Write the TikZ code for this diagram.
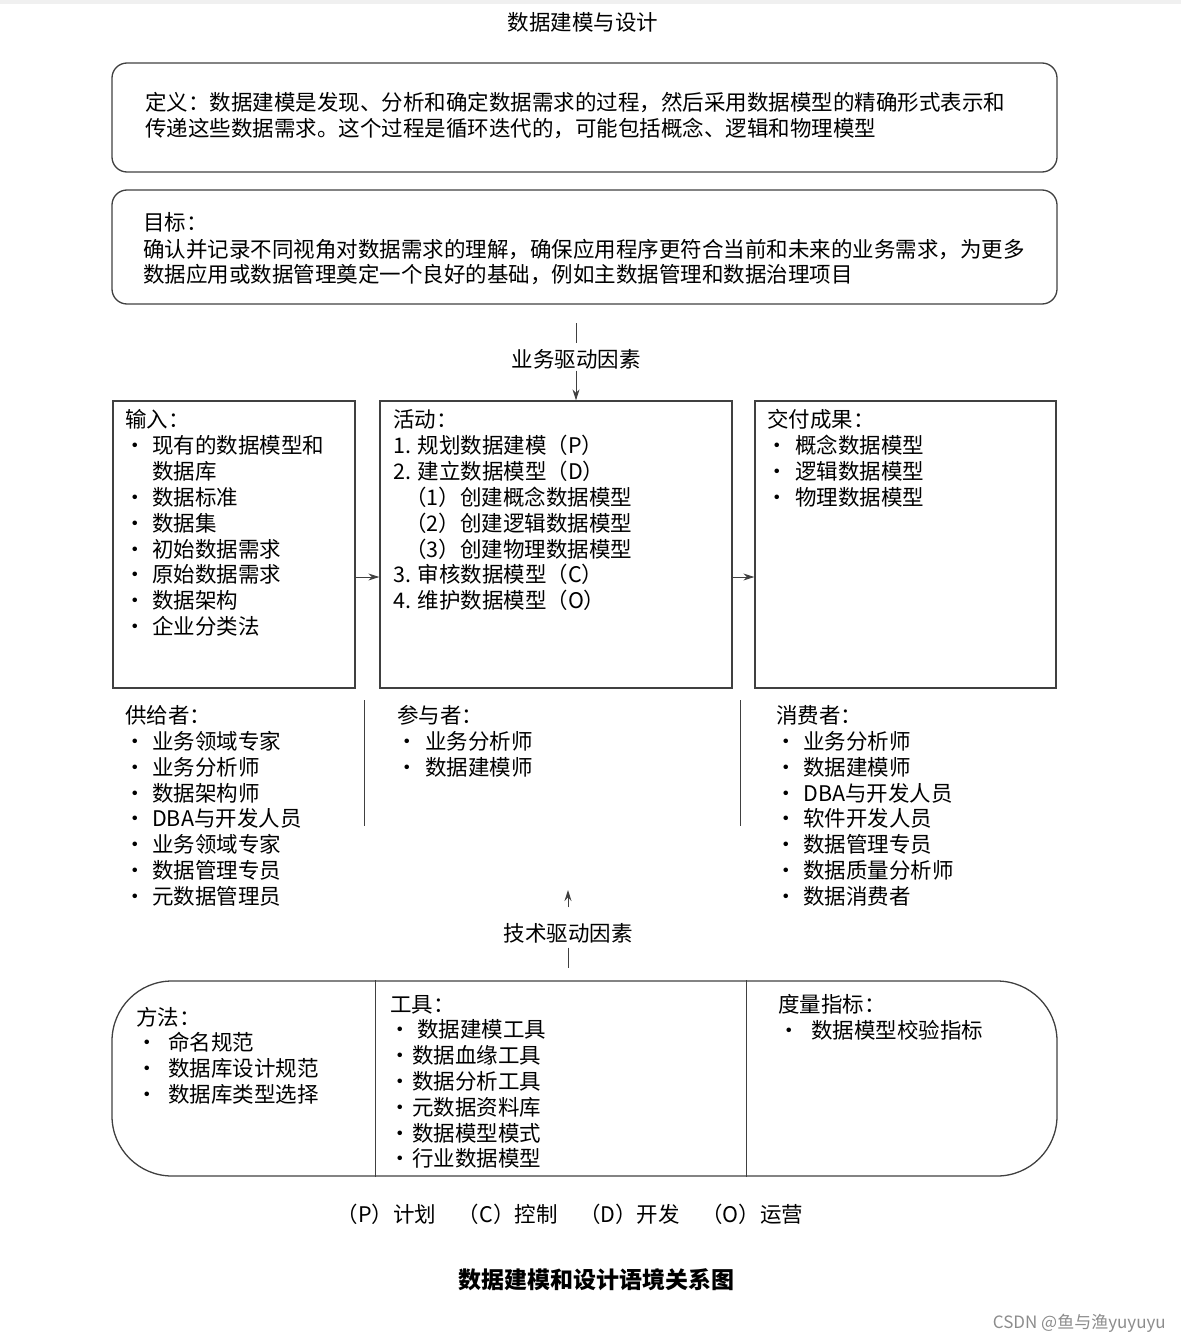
\documentclass[tikz,border=0pt]{standalone}
\usepackage{fontspec}
\setmainfont{Noto Sans CJK SC}
\usepackage{tikz}
\usetikzlibrary{arrows.meta}

\begin{document}
\begin{tikzpicture}[x=1pt,y=-1pt,>={Stealth[length=11pt,width=7pt]},
        font=\fontsize{21.5pt}{26pt}\selectfont,
        txt/.style={anchor=west,text height=22pt,text depth=3pt},
        dot/.style={text height=22pt,text depth=3pt},
        rbox/.style={draw=black!75,line width=1.3pt,rounded corners=15pt},
        sbox/.style={draw=black!75,line width=1.3pt},
        ln/.style={draw=black!75,line width=1pt}]
        \tikzstyle{every node}+=[inner sep=0pt]
        \useasboundingbox (0,0) rectangle (1181,1343);
        \fill [black!6] (0,0) rectangle (1181,4);
        % title
        \node (title) at (583,22) {数据建模与设计};
        % definition and goal
        \node [rbox,minimum width=945pt,minimum height=109pt] (def) at (584.5,117.5) {};
        \node [txt] (def-1) at (145,101) {定义：数据建模是发现、分析和确定数据需求的过程，然后采用数据模型的精确形式表示和};
        \node [txt] (def-2) at (145,127) {传递这些数据需求。这个过程是循环迭代的，可能包括概念、逻辑和物理模型};
        \node [rbox,minimum width=945pt,minimum height=114pt] (goal) at (584.5,247) {};
        \node [txt] (goal-0) at (143,221) {目标：};
        \node [txt] (goal-1) at (143,248) {确认并记录不同视角对数据需求的理解，确保应用程序更符合当前和未来的业务需求，为更多};
        \node [txt] (goal-2) at (143,273) {数据应用或数据管理奠定一个良好的基础，例如主数据管理和数据治理项目};
        % inputs, activities, deliverables
        \node [sbox,minimum width=242pt,minimum height=287pt] (in) at (234,544.5) {};
        \node [sbox,minimum width=352pt,minimum height=287pt] (act) at (556,544.5) {};
        \node [sbox,minimum width=301pt,minimum height=287pt] (out) at (905.5,544.5) {};
        \node [txt] (in-0) at (125,418) {输入：};
        \foreach \y/\t in {444/现有的数据模型和,496/数据标准,522/数据集,548/初始数据需求,
                573/原始数据需求,599/数据架构,625/企业分类法} {
                \node [dot] (in-b\y) at (135,\y) {·};
                \node [txt] (in-\y) at (152,\y) {\t};
        }
        \node [txt] (in-470) at (152,470) {数据库};
        \node [txt] (act-0) at (393,418) {活动：};
        \foreach \y/\t in {444/1. 规划数据建模（P）,470/2. 建立数据模型（D）,
                573/3. 审核数据模型（C）,599/4. 维护数据模型（O）}
                \node [txt] (act-\y) at (393,\y) {\t};
        \foreach \y/\t in {496/（1）创建概念数据模型,522/（2）创建逻辑数据模型,548/（3）创建物理数据模型}
                \node [txt] (act-\y) at (405,\y) {\t};
        \node [txt] (out-0) at (767,418) {交付成果：};
        \foreach \y/\t in {444/概念数据模型,470/逻辑数据模型,496/物理数据模型} {
                \node [dot] (out-b\y) at (777,\y) {·};
                \node [txt] (out-\y) at (795,\y) {\t};
        }
        \coordinate (flow) at (0,577);
        \draw [ln,->] (in.east |- flow) -- (act.west |- flow);
        \draw [ln,->] (act.east |- flow) -- (out.west |- flow);
        % business drivers
        \node (bd) [dot] at (576,358) {业务驱动因素};
        \coordinate (bdtop) at (576,323);
        \draw [ln] (bdtop) -- ([yshift=2pt]bd.north);
        \draw [ln,->] (bd.south) -- (bd.south |- act.north);
        % suppliers, participants, consumers
        \node [txt] (sup-0) at (125,714) {供给者：};
        \foreach \y/\t in {740/业务领域专家,766/业务分析师,792/数据架构师,817/DBA与开发人员,
                843/业务领域专家,869/数据管理专员,895/元数据管理员} {
                \node [dot] (sup-b\y) at (135,\y) {·};
                \node [txt] (sup-\y) at (152,\y) {\t};
        }
        \node [txt] (par-0) at (397,714) {参与者：};
        \foreach \y/\t in {740/业务分析师,766/数据建模师} {
                \node [dot] (par-b\y) at (407,\y) {·};
                \node [txt] (par-\y) at (425,\y) {\t};
        }
        \node [txt] (con-0) at (776,714) {消费者：};
        \foreach \y/\t in {740/业务分析师,766/数据建模师,792/DBA与开发人员,817/软件开发人员,
                843/数据管理专员,869/数据质量分析师,895/数据消费者} {
                \node [dot] (con-b\y) at (786,\y) {·};
                \node [txt] (con-\y) at (803,\y) {\t};
        }
        \draw [ln] (364,700) -- (364,826);
        \draw [ln] (740,700) -- (740,826);
        % technical drivers
        \node (td) [dot] at (568,932) {技术驱动因素};
        \coordinate (tdtop) at (568,890);
        \coordinate (tdlow) at (568,968);
        \draw [ln,->,shorten <=12pt] (td.north) -- (tdtop);
        \draw [ln,shorten <=3pt] (td.south) -- (tdlow);
        % methods, tools, metrics
        \node [draw=black!75,line width=1.3pt,rounded corners=60pt,minimum width=945pt,
                minimum height=195pt] (bot) at (584.5,1078.5) {};
        \draw [ln] (bot.north -| 375,0) -- (bot.south -| 375,0);
        \draw [ln] (bot.north -| 746,0) -- (bot.south -| 746,0);
        \node [txt] (met-0) at (136,1016) {方法：};
        \foreach \y/\t in {1041/命名规范,1067/数据库设计规范,1093/数据库类型选择} {
                \node [dot] (met-b\y) at (147,\y) {·};
                \node [txt] (met-\y) at (168,\y) {\t};
        }
        \node [txt] (tool-0) at (390,1003) {工具：};
        \node [dot] (tool-b1028) at (400,1028) {·};
        \node [txt] (tool-1028) at (417,1028) {数据建模工具};
        \foreach \y/\t in {1054/数据血缘工具,1080/数据分析工具,1106/元数据资料库,
                1132/数据模型模式,1157/行业数据模型} {
                \node [dot] (tool-b\y) at (400,\y) {·};
                \node [txt] (tool-\y) at (412,\y) {\t};
        }
        \node [txt] (kpi-0) at (778,1003) {度量指标：};
        \node [dot] (kpi-b1029) at (789,1029) {·};
        \node [txt] (kpi-1029) at (811,1029) {数据模型校验指标};
        % legend and caption
        \node [dot] (legend) at (570,1213) {（P）计划\quad（C）控制\quad（D）开发\quad（O）运营};
        \node [dot,font=\fontsize{23pt}{28pt}\selectfont\bfseries] (caption) at (596,1279)
                {数据建模和设计语境关系图};
        \node [anchor=east,text=black!45,font=\fontsize{17pt}{20pt}\selectfont] (mark) at (1166,1323)
                {CSDN @鱼与渔yuyuyu};
\end{tikzpicture}
\end{document}
